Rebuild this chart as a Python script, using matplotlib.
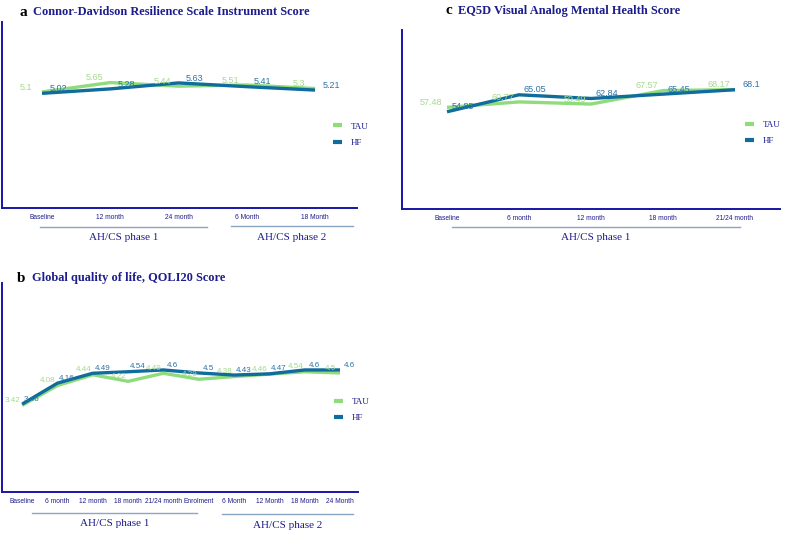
import numpy as np
import matplotlib
matplotlib.use("Agg")
import matplotlib.pyplot as plt

# panel a: Connor-Davidson Resilience Scale
a_ticks = ["Baseline", "12 month", "24 month", "6 Month", "18 Month"]
a_tau = [5.1, 5.65, 5.44, 5.51, 5.3]
a_hf = [5.02, 5.28, 5.63, 5.41, 5.21]

# panel b: QOLI20
b_ticks = ["Baseline", "6 month", "12 month", "18 month", "21/24 month",
           "Enrolment", "6 Month", "12 Month", "18 Month", "24 Month"]
b_tau = [3.42, 4.08, 4.44, 4.22, 4.49, 4.29, 4.38, 4.46, 4.54, 4.5]
b_hf = [3.46, 4.16, 4.49, 4.54, 4.6, 4.5, 4.43, 4.47, 4.6, 4.6]

# panel c: EQ5D VAS
c_ticks = ["Baseline", "6 month", "12 month", "18 month", "21/24 month"]
c_tau = [57.48, 60.77, 59.49, 67.57, 68.17]
c_hf = [54.85, 65.05, 62.84, 65.45, 68.1]

TAU_C = "#8fdc7c"
HF_C = "#106c9c"
TAU_TXT = "#a3da8c"
HF_TXT = "#2a74a8"
NAVY = "#1c1c8c"
SPINE = "#1616a6"

W, H = 787, 533
fig = plt.figure(figsize=(W / 100, H / 100), dpi=100)


def box(x0, y0, x1, y1):
    # pixel box (top-left origin) -> figure fraction rect
    return [x0 / W, 1 - y1 / H, (x1 - x0) / W, (y1 - y0) / H]


def panel(rect, ticks, tau, hf, xlim, ylim, off, leg_xy, fs=6.5):
    ax = fig.add_axes(box(*rect))
    x = np.arange(len(ticks))
    ax.plot(x, tau, color=TAU_C, lw=2.4, label="TAU", solid_capstyle="butt")
    ax.plot(x, hf, color=HF_C, lw=2.4, label="HF", solid_capstyle="butt")
    for xi, v in zip(x, tau):
        ax.annotate(f"{v:g}", (xi, v), xytext=(-off, 3.5), textcoords="offset points",
                    ha="center", va="center", fontsize=fs, color=TAU_TXT,
                    family="Liberation Sans")
    for xi, v in zip(x, hf):
        ax.annotate(f"{v:g}", (xi, v), xytext=(off, 3.5), textcoords="offset points",
                    ha="center", va="center", fontsize=fs, color=HF_TXT,
                    family="Liberation Sans")
    ax.set_xlim(*xlim)
    ax.set_ylim(*ylim)
    ax.set_yticks([])
    ax.set_xticks(x)
    ax.set_xticklabels(ticks, fontsize=4.8, color=NAVY, family="Liberation Sans")
    ax.tick_params(axis="x", length=0, pad=4)
    for s in ["top", "right"]:
        ax.spines[s].set_visible(False)
    for s in ["left", "bottom"]:
        ax.spines[s].set_color(SPINE)
        ax.spines[s].set_linewidth(1.4)
    leg = ax.legend(loc="upper left", bbox_to_anchor=leg_xy, frameon=False,
                    handlelength=1.0, handletextpad=1.0, labelspacing=0.9,
                    prop={"family": "Liberation Serif", "size": 6.5})
    for t in leg.get_texts():
        t.set_color(NAVY)
    for ln in leg.get_lines():
        ln.set_linewidth(3)
    return ax


def bracket(x0, x1, y, label):
    fig.add_artist(plt.Line2D([x0 / W, x1 / W], [1 - y / H, 1 - y / H],
                              color="#8aa6c4", lw=1.0))
    fig.text((x0 + x1) / 2 / W, 1 - (y + 11) / H, label, ha="center", va="center",
             fontsize=8, color=NAVY, family="Liberation Serif")


def title(xl, xt, y, letter, text):
    fig.text(xl / W, 1 - y / H, letter, fontsize=11, fontweight="bold",
             family="Liberation Serif", va="center", color="black")
    fig.text(xt / W, 1 - y / H, text, fontsize=8.9, fontweight="bold",
             family="Liberation Serif", va="center", color=NAVY)


# a
panel((2, 22, 357, 208), a_ticks, a_tau, a_hf, (-0.586, 4.615), (-1.7, 9.2), 11.5,
      (0.91, 0.505))
title(20, 33, 12, "a", "Connor-Davidson Resilience Scale Instrument Score")
bracket(40, 207, 227, "AH/CS phase 1")
bracket(231, 353, 226, "AH/CS phase 2")

# c
panel((402, 30, 780, 209), c_ticks, c_tau, c_hf, (-0.625, 4.625), (-3.6, 104), 11.5,
      (0.885, 0.54))
title(445, 458, 11, "c", "EQ5D Visual Analog Mental Health Score")
bracket(452, 740, 227, "AH/CS phase 1")

# b
panel((2, 283, 358, 492), b_ticks, b_tau, b_hf, (-0.57, 9.51), (0.53, 7.5), 6.8,
      (0.91, 0.49), fs=5.8)
title(17, 32, 278, "b", "Global quality of life, QOLI20 Score")
bracket(32, 197, 513, "AH/CS phase 1")
bracket(222, 353, 514, "AH/CS phase 2")

fig.savefig("out.png", dpi=100)
